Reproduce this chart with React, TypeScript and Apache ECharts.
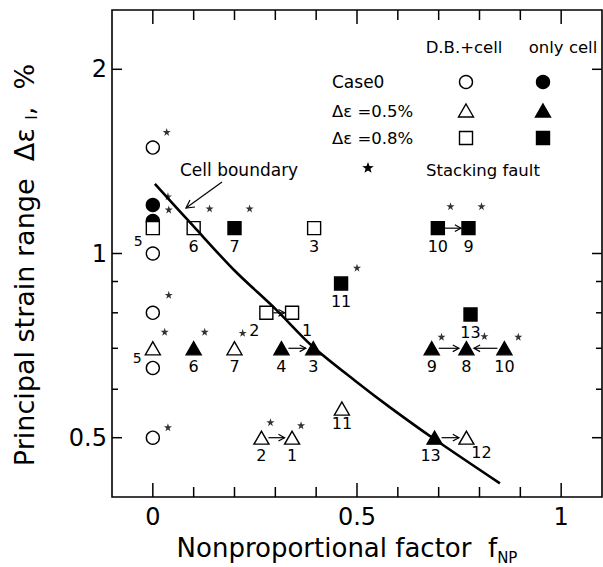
import React, { useEffect, useRef } from 'react';
import * as echarts from 'echarts';

const FONT = '"DejaVu Sans", sans-serif';

// Axis ranges and ticks
const xRange = [-0.1, 1.1];
const yRange = [0.4, 2.5];
const xMajorTicks = [0, 0.5, 1];
const xMinorTicks = [0.1, 0.2, 0.3, 0.4, 0.6, 0.7, 0.8, 0.9];
const yMajorTicks = [0.5, 1, 2];
const yMinorTicks = [0.6, 0.7, 0.8, 0.9];

// [f_NP, Δε_I (%), specimen label]
type Pt = [number, number, string];
const case0Open: Pt[] = [[0, 1.49, ''], [0, 1.0, ''], [0, 0.8, ''], [0, 0.65, ''], [0, 0.5, '']];
const case0Filled: Pt[] = [[0, 1.2, ''], [0, 1.13, '']];
const de05Open: Pt[] = [[0, 0.7, '5'], [0.2, 0.7, '7'], [0.266, 0.5, '2'], [0.341, 0.5, '1'], [0.463, 0.558, '11'], [0.768, 0.5, '12']];
const de05Filled: Pt[] = [[0.1, 0.7, '6'], [0.315, 0.7, '4'], [0.393, 0.7, '3'], [0.683, 0.7, '9'], [0.768, 0.7, '8'], [0.861, 0.7, '10'], [0.69, 0.5, '13']];
const de08Open: Pt[] = [[0, 1.1, '5'], [0.1, 1.1, '6'], [0.395, 1.1, '3'], [0.278, 0.8, '2'], [0.341, 0.8, '1']];
const de08Filled: Pt[] = [[0.2, 1.1, '7'], [0.698, 1.1, '10'], [0.773, 1.1, '9'], [0.461, 0.893, '11'], [0.778, 0.795, '13']];

// Stacking fault markers (*)
const stackingFaults: [number, number][] = [
  [0.034, 1.58], [0.037, 1.24], [0.039, 1.18], [0.139, 1.185], [0.237, 1.185],
  [0.039, 0.856], [0.029, 0.745], [0.127, 0.745], [0.22, 0.742],
  [0.288, 0.53], [0.363, 0.524], [0.037, 0.52],
  [0.729, 1.195], [0.805, 1.195], [0.5, 0.948],
  [0.707, 0.731], [0.812, 0.733], [0.895, 0.731],
];

// Transitions (arrows): [x from, y from, x to, y to]
const transitions: [number, number, number, number][] = [
  [0.278, 0.8, 0.341, 0.8],
  [0.315, 0.7, 0.393, 0.7],
  [0.266, 0.5, 0.341, 0.5],
  [0.69, 0.5, 0.768, 0.5],
  [0.683, 0.7, 0.768, 0.7],
  [0.861, 0.7, 0.768, 0.7],
  [0.698, 1.1, 0.773, 1.1],
];

// Cell boundary curve
const boundaryX = [0.005, 0.1, 0.2, 0.3, 0.39, 0.5, 0.58, 0.69, 0.85];
const boundaryY = [1.3, 1.107, 0.938, 0.812, 0.706, 0.616, 0.561, 0.497, 0.421];

// label placement (style, not data)
const labelPlace: Record<string, { position: string; offset: [number, number]; fontSize?: number }> = {
  'sqo-5': { position: 'left', offset: [0, 13], fontSize: 14 },
  'tro-5': { position: 'left', offset: [0, 10], fontSize: 14 },
  'sqo-2': { position: 'bottom', offset: [-12, 0] },
  'sqo-1': { position: 'bottom', offset: [15, 0] },
  'trf-13': { position: 'bottom', offset: [-4, 0] },
  'tro-12': { position: 'bottom', offset: [15, -3] },
  'tro-11': { position: 'bottom', offset: [0, -3] },
};

const STAR = 'path://M50,0 L61.8,35.1 L98.1,35.1 L68.8,56.8 L79.4,91 L50,70 L20.6,91 L31.2,56.8 L1.9,35.1 L38.2,35.1 Z';

function markerSeries(key: string, data: Pt[], symbol: string, filled: boolean, z: number) {
  return {
    type: 'scatter',
    silent: true,
    z,
    symbol,
    symbolSize: symbol === 'triangle' ? [15, 13] : 13,
    itemStyle: { color: filled ? '#000' : '#fff', borderColor: '#000', borderWidth: 1.4, opacity: 1 },
    data: data.map(([x, y, lab]) => {
      const p = labelPlace[`${key}-${lab}`] || { position: 'bottom', offset: [0, 0] };
      return {
        value: [x, y],
        label: {
          show: !!lab,
          formatter: () => lab,
          position: p.position,
          offset: p.offset,
          distance: 3,
          fontSize: p.fontSize || 16,
          fontFamily: FONT,
          color: '#000',
        },
      };
    }),
  };
}

// Frame tick marks drawn as thin rect symbols anchored on the frame
function tickItems() {
  const items: any[] = [];
  const isXMajor = (v: number) => xMajorTicks.indexOf(v) >= 0;
  const isYMajor = (v: number) => yMajorTicks.indexOf(v) >= 0;
  [...xMajorTicks, ...xMinorTicks].forEach((v) => {
    const len = isXMajor(v) ? 14 : 10;
    items.push({ value: [v, yRange[0]], symbolSize: [1.5, len], symbolOffset: [0, -len / 2] });
    items.push({ value: [v, yRange[1]], symbolSize: [1.5, len], symbolOffset: [0, len / 2] });
  });
  [...yMajorTicks, ...yMinorTicks].forEach((v) => {
    const len = isYMajor(v) ? 10 : 6;
    items.push({ value: [xRange[0], v], symbolSize: [len, 1.5], symbolOffset: [len / 2, 0] });
    items.push({ value: [xRange[1], v], symbolSize: [len, 1.5], symbolOffset: [-len / 2, 0] });
  });
  return items;
}

function starPoints(cx: number, cy: number, r: number) {
  const pts: number[][] = [];
  for (let i = 0; i < 10; i++) {
    const rr = i % 2 === 0 ? r : r * 0.42;
    const a = -Math.PI / 2 + (i * Math.PI) / 5;
    pts.push([cx + rr * Math.cos(a), cy + rr * Math.sin(a)]);
  }
  return pts;
}

export default function App() {
  const ref = useRef<HTMLDivElement>(null);
  useEffect(() => {
    if (!ref.current) return;
    const chart = echarts.init(ref.current, null, { renderer: 'svg' });
    const txt = (text: string, x: number, y: number, size: number, align = 'left') => ({
      type: 'text',
      x,
      y,
      style: { text, fontSize: size, fontFamily: FONT, fill: '#000', textAlign: align, textVerticalAlign: 'middle' },
    });
    const legendMarkers: any[] = [];
    const lx = [466, 543];
    lx.forEach((x, i) => {
      const fill = i === 0 ? '#fff' : '#000';
      const st = { fill, stroke: '#000', lineWidth: 1.4 };
      legendMarkers.push({ type: 'circle', shape: { cx: x, cy: 82, r: 6.5 }, style: st });
      legendMarkers.push({ type: 'polygon', shape: { points: [[x, 104], [x + 7.5, 117], [x - 7.5, 117]] }, style: st });
      legendMarkers.push({ type: 'rect', shape: { x: x - 6.5, y: 131.5, width: 13, height: 13 }, style: st });
    });
    const labelStyle = { show: true, fontSize: 24, fontFamily: FONT, color: '#000', formatter: (v: number) => String(v) };

    const option: any = {
      animation: false,
      backgroundColor: '#fff',
      grid: { left: 112, top: 10, right: 1, bottom: 70, show: true, borderColor: '#000', borderWidth: 1.6, backgroundColor: 'transparent' },
      xAxis: {
        type: 'value',
        min: xRange[0],
        max: xRange[1],
        axisLine: { show: false, onZero: false },
        axisTick: { show: false },
        splitLine: { show: false },
        axisLabel: { ...labelStyle, customValues: xMajorTicks, margin: 8 },
      },
      yAxis: {
        type: 'log',
        min: yRange[0],
        max: yRange[1],
        axisLine: { show: false, onZero: false },
        axisTick: { show: false },
        splitLine: { show: false },
        axisLabel: { ...labelStyle, customValues: yMajorTicks, margin: 5 },
      },
      series: [
        {
          type: 'scatter',
          silent: true,
          clip: false,
          z: 8,
          symbol: 'rect',
          itemStyle: { color: '#000', opacity: 1 },
          data: tickItems(),
        },
        markerSeries('cf', case0Filled, 'circle', true, 2),
        markerSeries('co', case0Open, 'circle', false, 2),
        markerSeries('tro', de05Open, 'triangle', false, 3),
        markerSeries('trf', de05Filled, 'triangle', true, 3),
        markerSeries('sqo', de08Open, 'rect', false, 4),
        markerSeries('sqf', de08Filled, 'rect', true, 4),
        {
          type: 'scatter',
          silent: true,
          z: 4,
          symbol: STAR,
          symbolSize: 8,
          itemStyle: { color: '#000' },
          data: stackingFaults,
        },
        {
          type: 'custom',
          silent: true,
          z: 5,
          coordinateSystem: 'cartesian2d',
          encode: { x: [0, 2], y: [1, 3] },
          data: transitions,
          renderItem: (_p: any, api: any) => {
            const a = api.coord([api.value(0), api.value(1)]);
            const b = api.coord([api.value(2), api.value(3)]);
            const dx = b[0] - a[0];
            const dy = b[1] - a[1];
            const L = Math.hypot(dx, dy) || 1;
            const ux = dx / L;
            const uy = dy / L;
            const s = [a[0] + ux * 7, a[1] + uy * 7];
            const e = [b[0] - ux * 7.5, b[1] - uy * 7.5];
            const h = 7;
            const back = (r: number) => [e[0] - h * (ux * Math.cos(r) - uy * Math.sin(r)), e[1] - h * (uy * Math.cos(r) + ux * Math.sin(r))];
            return {
              type: 'group',
              children: [
                { type: 'line', shape: { x1: s[0], y1: s[1], x2: e[0], y2: e[1] }, style: { stroke: '#000', lineWidth: 1.2 } },
                { type: 'polyline', shape: { points: [back(0.5), e, back(-0.5)] }, style: { stroke: '#000', fill: 'none', lineWidth: 1.2 } },
              ],
            };
          },
        },
        {
          type: 'line',
          silent: true,
          z: 6,
          symbol: 'none',
          smooth: 0.3,
          lineStyle: { color: '#000', width: 2.6 },
          data: boundaryX.map((x, i) => [x, boundaryY[i]]),
        },
      ],
      graphic: [
        txt('D.B.+cell', 464, 47, 16.5, 'center'),
        txt('only cell', 563, 47, 16.5, 'center'),
        txt('Case0', 332, 82, 17),
        txt('Δε =0.5%', 332, 111, 16.5),
        txt('Δε =0.8%', 332, 138, 16.5),
        txt('Stacking fault', 426, 170, 16.5),
        { type: 'polygon', shape: { points: starPoints(368, 168, 6) }, style: { fill: '#000' } },
        ...legendMarkers,
        txt('Cell boundary', 180, 170, 17),
        { type: 'line', shape: { x1: 222, y1: 182, x2: 186, y2: 208 }, style: { stroke: '#000', lineWidth: 1.2 } },
        { type: 'polyline', shape: { points: [[190, 200], [186, 208], [195, 207]] }, style: { stroke: '#000', fill: 'none', lineWidth: 1.2 } },
        {
          type: 'text',
          x: 24,
          y: 265,
          rotation: Math.PI / 2,
          style: {
            text: 'Principal strain range  Δε {s|I},  %',
            fontSize: 27,
            fontFamily: FONT,
            fill: '#000',
            textAlign: 'center',
            textVerticalAlign: 'middle',
            rich: { s: { fontSize: 15, fontFamily: FONT, fill: '#000', verticalAlign: 'bottom', lineHeight: 30 } },
          },
        },
        {
          type: 'text',
          x: 347,
          y: 548,
          style: {
            text: 'Nonproportional factor  f{s|NP}',
            fontSize: 26,
            fontFamily: FONT,
            fill: '#000',
            textAlign: 'center',
            textVerticalAlign: 'middle',
            rich: { s: { fontSize: 15, fontFamily: FONT, fill: '#000', verticalAlign: 'bottom', lineHeight: 34 } },
          },
        },
      ],
    };
    chart.setOption(option);
    return () => chart.dispose();
  }, []);
  return <div ref={ref} style={{ position: 'fixed', left: 0, top: 0, width: 603, height: 567 }} />;
}
